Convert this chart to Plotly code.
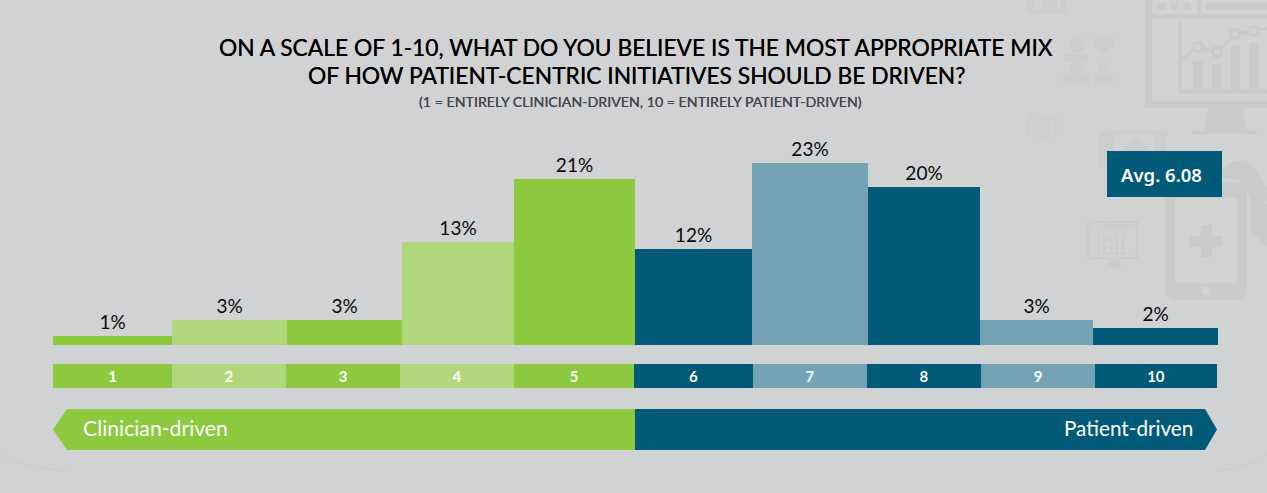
import plotly.graph_objects as go

# ---------- data ----------
scores = [1, 2, 3, 4, 5, 6, 7, 8, 9, 10]
shares = [1.1, 3.1, 3.1, 13, 21, 12.1, 23, 20, 3.1, 2.1]
share_labels = ["1%", "3%", "3%", "13%", "21%", "12%", "23%", "20%", "3%", "2%"]
score_labels = ["1", "2", "3", "4", "5", "6", "7", "8", "9", "10"]
title_lines = ["ON A SCALE OF 1-10, WHAT DO YOU BELIEVE IS THE MOST APPROPRIATE MIX",
               "OF HOW PATIENT-CENTRIC INITIATIVES SHOULD BE DRIVEN?"]
subtitle = "(1 = ENTIRELY CLINICIAN-DRIVEN, 10 = ENTIRELY PATIENT-DRIVEN)"
average_label = "Avg. 6.08"
left_label = "Clinician-driven"
right_label = "Patient-driven"

# ---------- layout constants ----------
W, H = 1267, 493
BG = "#d1d2d4"
GREEN, LGREEN = "#8cc93f", "#b0d77b"
TEAL, LTEAL = "#005a78", "#74a3b5"
bar_colors = [GREEN, LGREEN, GREEN, LGREEN, GREEN, TEAL, LTEAL, TEAL, LTEAL, TEAL]
bar_edges = [53, 172, 287, 402, 514, 635, 752, 868, 980, 1093, 1218]
strip_edges = [53, 172, 286, 400, 514, 634, 753, 867, 981, 1095, 1217]
UNIT = 116.5
BASE_Y, PX_PER_PCT = 345, 7.91
STRIP_TOP, STRIP_BOT = 364, 388
FONT = "Lato"

def xv(px):
    return 0.5 + (px - 53) / UNIT
def px_(x):
    return x / W
def py_(y):
    return 1 - y / H

def spans(edges):
    left = [xv(e) for e in edges[:-1]]
    right = [xv(e) for e in edges[1:]]
    return [l - s for l, s in zip(left, scores)], [r - l for l, r in zip(left, right)]

shapes = []
def poly(points, color, layer="below"):
    d = "M" + " L".join(f"{px_(x):.5f},{py_(y):.5f}" for x, y in points) + " Z"
    shapes.append(dict(type="path", path=d, xref="paper", yref="paper",
                       fillcolor=color, line_width=0, layer=layer))
def rect(x0, y0, x1, y1, color, layer="below"):
    poly([(x0, y0), (x1, y0), (x1, y1), (x0, y1)], color, layer)
def circle(cx, cy, r, color, stroke=None, sw=0):
    shapes.append(dict(type="circle", xref="paper", yref="paper",
                       x0=px_(cx - r), x1=px_(cx + r), y0=py_(cy + r), y1=py_(cy - r),
                       fillcolor=color, line=dict(color=stroke or color, width=sw), layer="below"))

def monitor(ox, oy, s, c):
    T = lambda x, y: (ox + (x - 1145) * s, oy + (y + 8) * s)
    R = lambda a, b, cc, d, col=c: rect(*T(a, b), *T(cc, d), col)
    R(1145, -8, 1300, 108)
    R(1152, -1, 1293, 14, BG)
    R(1152, 18, 1293, 101, BG)
    for a, b in [(1158, 1166), (1171, 1177), (1184, 1191)]:
        R(a, 3, b, 10)
    R(1197, -1, 1201, 14)
    R(1206, 3, 1285, 10)
    poly([T(1208, 108), T(1243, 108), T(1247, 131), T(1204, 131)], c)
    R(1192, 131, 1257, 134)
    R(1178, 22, 1182, 94)
    R(1178, 89, 1285, 94)
    for a, b, top in [(1193, 1203, 61), (1212, 1222, 64), (1231, 1240, 46), (1249, 1259, 43)]:
        R(a, top, b, 90)
    pts = [(1182, 59), (1198, 47), (1217, 52), (1235, 34), (1254, 31), (1270, 28)]
    for (a, b), (e, f) in zip(pts[:-1], pts[1:]):
        poly([T(a, b - 1.5), T(e, f - 1.5), T(e, f + 1.5), T(a, b + 1.5)], c)
    for a, b in pts[1:5]:
        circle(*T(a, b), 4.5 * s, BG, c, max(0.6, 3.5 * s))

ICON = "#c9cacb"
FAINT = "#cccdcf"
monitor(1145, -8, 1.0, ICON)
monitor(1087, 221, 0.33, "#cbcccd")
monitor(1028, 115, 0.185, "#cdcecf")

# stethoscope-like shape behind the phone
poly([(1222, 170), (1232, 162), (1245, 160), (1257, 171), (1267, 187), (1267, 200),
      (1264, 208), (1250, 213), (1250, 196), (1240, 181), (1222, 177)], ICON)
poly([(1251, 214), (1267, 203), (1267, 247), (1251, 231)], ICON)

# phone
rect(1175, 183, 1237, 300, ICON)
rect(1165, 193, 1247, 290, ICON)
for cx, cy in [(1175, 193), (1237, 193), (1175, 290), (1237, 290)]:
    circle(cx, cy, 10, ICON)
rect(1175, 198, 1237, 283, BG)
rect(1190, 236, 1222, 247, ICON)
rect(1201, 225, 1212, 257, ICON)
circle(1206, 291, 4.5, BG)

# tablets
for x0, y0, x1, y1, sx0, sx1 in [(1099, 131, 1167, 167, 1114, 1154), (1027, -20, 1067, 14, 1034, 1060)]:
    rect(x0, y0, x1, y1, FAINT)
    rect(sx0, y0 + 3, sx1, y1 - 3, BG)
circle(1136, 146, 8, FAINT)
rect(1124, 146, 1148, 164, FAINT)
circle(1050, 2, 6, FAINT)
rect(1042, 3, 1058, 11, FAINT)

# people and heart
circle(1077, 45, 8, FAINT)
rect(1065, 54, 1088, 62, FAINT)
circle(1077, 68, 7, FAINT)
rect(1063, 75, 1089, 83, FAINT)
circle(1103, 68, 6, FAINT)
rect(1094, 75, 1113, 83, FAINT)
circle(1098.5, 42, 6, FAINT)
circle(1108.5, 42, 6, FAINT)
poly([(1093, 44), (1114, 44), (1103.5, 54)], FAINT)

# faint arcs at the bottom
for d in [f"M{px_(0):.5f},{py_(453):.5f} Q{px_(20):.5f},{py_(468):.5f} {px_(66):.5f},{py_(471):.5f}",
          f"M{px_(1216):.5f},{py_(471):.5f} Q{px_(1245):.5f},{py_(468):.5f} {px_(1267):.5f},{py_(455):.5f}"]:
    shapes.append(dict(type="path", path=d, xref="paper", yref="paper",
                       line=dict(color="#cbccce", width=1), layer="below"))

# direction arrows
poly([(53, 429.5), (67, 409), (635, 409), (635, 450), (67, 450)], GREEN)
poly([(635, 409), (1205, 409), (1217, 429.5), (1205, 450), (635, 450)], TEAL)
# average box
rect(1107, 151, 1222, 197, TEAL, "above")

bar_off, bar_w = spans(bar_edges)
strip_off, strip_w = spans(strip_edges)

fig = go.Figure()
fig.add_trace(go.Bar(x=scores, y=shares, width=bar_w, offset=bar_off,
                     marker=dict(color=bar_colors, line_width=0),
                     text=share_labels, textposition="outside", cliponaxis=False,
                     textfont=dict(family=FONT, size=19, color="#0a0a0a"),
                     hoverinfo="x+text", name="Share"))
fig.add_trace(go.Bar(x=scores, y=[1] * len(scores), width=strip_w, offset=strip_off, yaxis="y2",
                     marker=dict(color=bar_colors, line_width=0),
                     text=score_labels, textposition="inside", insidetextanchor="middle",
                     textangle=0, constraintext="none",
                     textfont=dict(family=FONT, size=15, color="white", weight="bold"),
                     hoverinfo="skip", name="Scale"))

def note(text, x, y, size, color="#000000", anchor="center", weight="normal", family=FONT, shadow=None):
    f = dict(family=family, size=size, color=color, weight=weight)
    if shadow:
        f["shadow"] = shadow
    return dict(text=text, xref="paper", yref="paper", x=px_(x), y=py_(y), xanchor=anchor,
                yanchor="middle", showarrow=False, font=f)

annotations = [
    note(title_lines[0], 636, 47, 22.8, shadow="0 0 0.6px #000"),
    note(title_lines[1], 636, 75, 22.8, shadow="0 0 0.6px #000"),
    note(subtitle, 640.5, 101, 14.2, "#45454f", shadow="0 0 0.5px #45454f"),
    note(left_label, 80.5, 428, 21.2, "white", "left"),
    note(right_label, 1195, 428, 20.7, "white", "right"),
    note(average_label, 1161, 174, 18.5, "white", weight=600, family="Noto Sans"),
]

fig.update_layout(
    width=W, height=H, margin=dict(l=0, r=0, t=0, b=0), autosize=False,
    paper_bgcolor=BG, plot_bgcolor="rgba(0,0,0,0)", showlegend=False,
    bargap=0, barmode="overlay",
    xaxis=dict(range=[xv(0), xv(W)], visible=False, fixedrange=True),
    yaxis=dict(range=[0, BASE_Y / PX_PER_PCT], domain=[py_(BASE_Y), 1], visible=False, fixedrange=True),
    yaxis2=dict(range=[0, 1], domain=[py_(STRIP_BOT), py_(STRIP_TOP)], visible=False, fixedrange=True),
    shapes=shapes, annotations=annotations,
)
fig.write_html("out.html", config={"displayModeBar": False},
               post_script="document.body.style.margin='0';document.documentElement.style.overflow='hidden';")
